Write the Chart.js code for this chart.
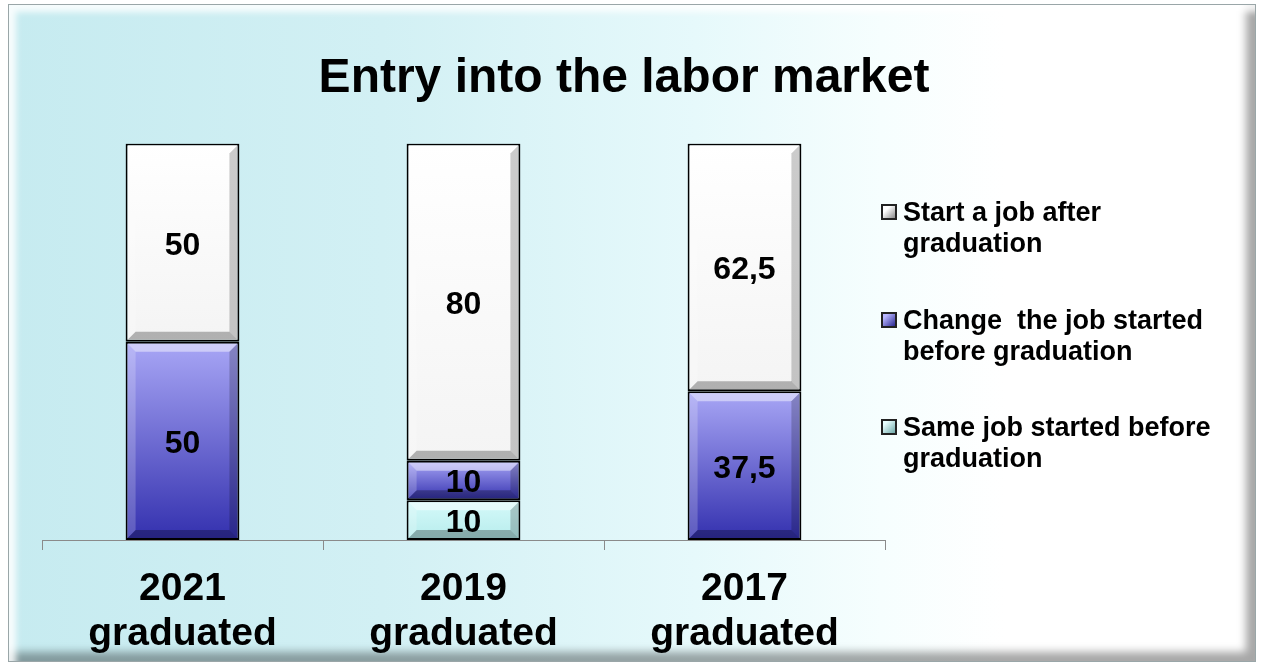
<!DOCTYPE html>
<html>
<head>
<meta charset="utf-8">
<script src="https://cdn.jsdelivr.net/npm/chart.js@4"></script>
<style>
  body { margin: 0; background: #ffffff; font-family: Arial, "Liberation Sans", sans-serif; }
  .frame {
    position: absolute; left: 8px; top: 4px; width: 1248px; height: 658px;
    box-sizing: border-box;
    border: 1px solid #9aa6a8;
    background: linear-gradient(90deg, #c6ebf0 0%, #d2f0f4 30%, #e6f9fb 55%, #f6fefe 70%, #ffffff 80%);
    box-shadow: inset 7px 7px 6px rgba(255,255,255,0.85), inset -9px -9px 8px rgba(0,0,0,0.35);
  }
  #chart { position: absolute; left: 0; top: 0; }
  .legend { position: absolute; left: 881px; top: 0; }
  .item { position: absolute; left: 0; width: 370px; padding-left: 22px; white-space: pre;
          font-weight: bold; font-size: 27px; line-height: 31px; color: #000; }
  .item .box { position: absolute; left: 0; top: 7px; width: 16px; height: 16px;
               box-sizing: border-box; border: 2px solid #222; }
</style>
</head>
<body>
<div class="frame"></div>
<canvas id="chart" width="1262" height="666"></canvas>
<div class="legend" id="legend"></div>
<script>
const categories = [['2021', 'graduated'], ['2019', 'graduated'], ['2017', 'graduated']];
const seriesNames = ['Same job started before graduation', 'Change  the job started before graduation', 'Start a job after graduation'];
const legendLines = [['Same job started before', 'graduation'], ['Change  the job started', 'before graduation'], ['Start a job after', 'graduation']];
const sameJob = [0, 10, 0];
const changeJob = [50, 10, 37.5];
const startAfter = [50, 80, 62.5];
const seriesValues = [sameJob, changeJob, startAfter];

// top / bottom colours of each series gradient
const gradTop = ['#d6fafa', '#a9a7f6', '#ffffff'];
const gradBottom = ['#b6ecec', '#3330ae', '#f4f4f4'];
const legendBox = ['linear-gradient(135deg, #e8ffff 20%, #6fa8a8)', 'linear-gradient(135deg, #b8b6ff 20%, #2a2890)', 'linear-gradient(135deg, #ffffff 30%, #8a8a8a)'];

function barFill(i) {
    return function (ctx) {
        const chart = ctx.chart;
        const y = chart.scales.y;
        if (!y || ctx.type !== 'data') return gradTop[i];
        let start = 0;
        for (let k = 0; k < i; k++) start += seriesValues[k][ctx.dataIndex] || 0;
        const top = y.getPixelForValue(start + seriesValues[i][ctx.dataIndex]);
        const bottom = y.getPixelForValue(start);
        if (!isFinite(top) || !isFinite(bottom) || top === bottom) return gradTop[i];
        const g = chart.ctx.createLinearGradient(0, top, 0, bottom);
        g.addColorStop(0, gradTop[i]);
        g.addColorStop(1, gradBottom[i]);
        return g;
    };
}

// soft bevel on each bar, like the office 3d style
const bevelPlugin = {
    id: 'bevel',
    afterDatasetsDraw(chart) {
        const c = chart.ctx;
        chart.data.datasets.forEach((ds, i) => {
            chart.getDatasetMeta(i).data.forEach((bar, j) => {
                if (!ds.data[j]) return;
                const p = bar.getProps(['x', 'y', 'base', 'width'], true);
                const l = p.x - p.width / 2 + 2, r = p.x + p.width / 2 - 2;
                const t = Math.min(p.y, p.base) + 2, b = Math.max(p.y, p.base) - 2;
                const s = Math.min(8, (b - t) / 2);
                const quad = (pts, col) => {
                    c.beginPath();
                    c.moveTo(pts[0], pts[1]);
                    for (let k = 2; k < pts.length; k += 2) c.lineTo(pts[k], pts[k + 1]);
                    c.closePath();
                    c.fillStyle = col;
                    c.fill();
                };
                c.save();
                quad([l, t, r, t, r - s, t + s, l + s, t + s], 'rgba(255,255,255,0.45)');
                quad([l, t, l + s, t + s, l + s, b - s, l, b], 'rgba(255,255,255,0.2)');
                quad([r, t, r, b, r - s, b - s, r - s, t + s], 'rgba(0,0,0,0.2)');
                quad([l, b, r, b, r - s, b - s, l + s, b - s], 'rgba(0,0,0,0.28)');
                c.restore();
            });
        });
    }
};

// value labels in the middle of each segment
const labelPlugin = {
    id: 'segLabels',
    afterDatasetsDraw(chart) {
        const c = chart.ctx;
        c.save();
        c.font = 'bold 32px Arial, "Liberation Sans", sans-serif';
        c.fillStyle = '#000';
        c.textAlign = 'center';
        c.textBaseline = 'middle';
        chart.data.datasets.forEach((ds, i) => {
            chart.getDatasetMeta(i).data.forEach((bar, j) => {
                const v = ds.data[j];
                if (!v) return;
                const p = bar.getProps(['x', 'y', 'base'], true);
                c.fillText(String(v).replace('.', ','), p.x, (p.y + p.base) / 2 + 3);
            });
        });
        c.restore();
    }
};

const chart = new Chart(document.getElementById('chart'), {
    type: 'bar',
    data: {
        labels: categories,
        datasets: seriesValues.map((vals, i) => ({
            label: seriesNames[i],
            data: vals,
            backgroundColor: barFill(i),
            borderColor: '#000',
            borderWidth: 2,
            borderSkipped: false,
            barPercentage: 0.81,
            categoryPercentage: 0.5
        }))
    },
    options: {
        responsive: false,
        animation: false,
        layout: { padding: { left: 0, right: 14, top: 0, bottom: 0 } },
        plugins: {
            legend: { display: false },
            tooltip: { enabled: false },
            title: {
                display: true,
                text: 'Entry into the labor market',
                color: '#000',
                font: { family: 'Arial, "Liberation Sans", sans-serif', size: 48, weight: 'bold' },
                padding: { top: 50, bottom: 36 }
            }
        },
        scales: {
            x: {
                stacked: true,
                offset: true,
                grid: { display: true, offset: true, drawOnChartArea: false, drawTicks: true, tickLength: 10, color: '#8a8a8a' },
                border: { display: true, color: '#8a8a8a', width: 1 },
                ticks: {
                    color: '#000',
                    padding: 17,
                    font: { family: 'Arial, "Liberation Sans", sans-serif', size: 39, weight: 'bold', lineHeight: 1.15 },
                    maxRotation: 0
                },
                afterFit(s) { s.height = 126; }
            },
            y: {
                stacked: true,
                min: 0,
                max: 100,
                grid: { display: false },
                border: { display: false },
                ticks: { display: false },
                afterFit(s) { s.width = 42; }
            },
            yRight: {
                position: 'right',
                min: 0,
                max: 100,
                grid: { display: false },
                border: { display: false },
                ticks: { display: false },
                afterFit(s) { s.width = 363; }
            }
        }
    },
    plugins: [bevelPlugin, labelPlugin]
});

// legend in the reverse order of the stack, as in the original
const legend = document.getElementById('legend');
const itemTops = [197, 305, 412];
[2, 1, 0].forEach((i, n) => {
    const item = document.createElement('div');
    item.className = 'item';
    item.style.top = itemTops[n] + 'px';
    const box = document.createElement('span');
    box.className = 'box';
    box.style.background = legendBox[i];
    item.appendChild(box);
    item.appendChild(document.createTextNode(legendLines[i][0]));
    item.appendChild(document.createElement('br'));
    item.appendChild(document.createTextNode(legendLines[i][1]));
    legend.appendChild(item);
});
</script>
</body>
</html>
